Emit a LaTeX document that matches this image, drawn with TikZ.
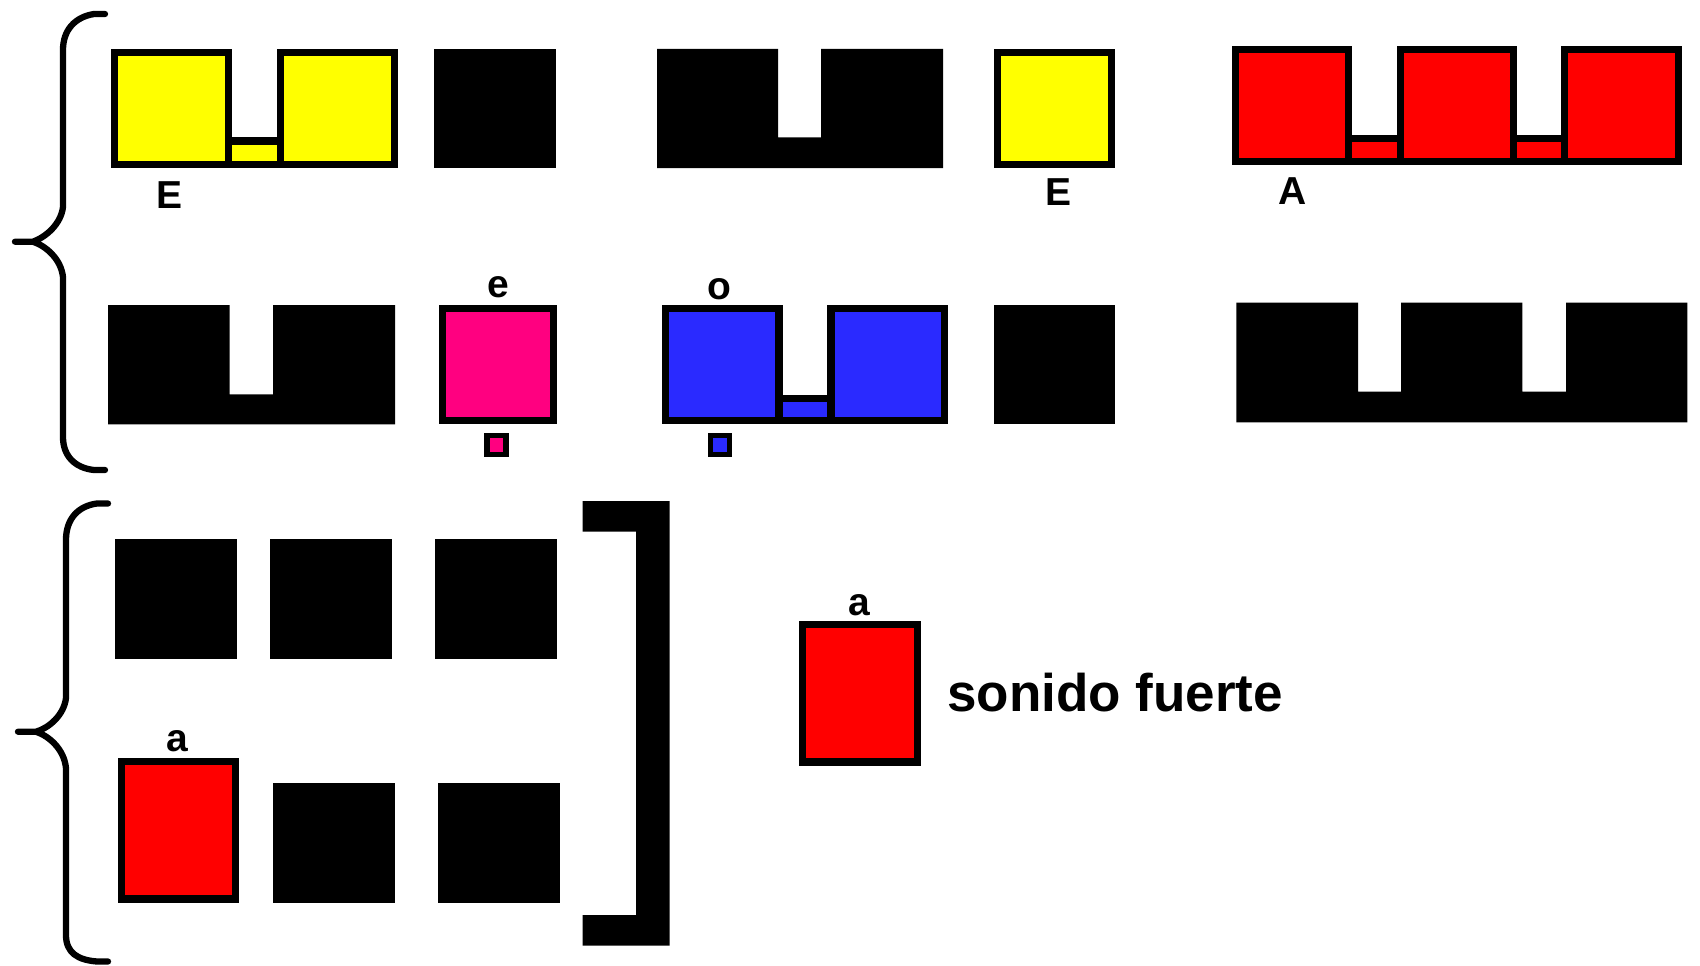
\documentclass[tikz,border=0pt]{standalone}
\usepackage{fontspec}
\setmainfont{Liberation Sans}
\definecolor{yel}{RGB}{255,255,0}
\definecolor{rd}{RGB}{255,0,0}
\definecolor{mag}{RGB}{255,0,128}
\definecolor{blu}{RGB}{42,42,255}
\newcommand{\obox}[5]{\draw[cbox,fill=#5] ({#1+3.65},{#2+3.65}) rectangle ({#3-3.65},{#4-3.65});}
\newcommand{\smbox}[5]{\draw[cbox,line width=5.7pt,fill=#5] ({#1+2.85},{#2+2.85}) rectangle ({#3-2.85},{#4-2.85});}
\tikzset{
  cbox/.style={draw=black,line width=7.3pt,line join=miter},
  solid/.style={fill=black},
  brace/.style={draw=black,line width=6.3pt,line cap=round,line join=round},
  lab/.style={font=\bfseries\fontsize{39}{40}\selectfont,inner sep=0pt,anchor=base},
  big/.style={font=\bfseries\fontsize{53}{56}\selectfont,inner sep=0pt,anchor=base west}
}
\begin{document}
\begin{tikzpicture}[x=1pt,y=-1pt]
\useasboundingbox (0,0) rectangle (1700,966);
% ---------- row 1 ----------
\obox{111}{49}{232}{168}{yel}
\obox{277}{49}{398}{168}{yel}
\obox{224.7}{137.3}{284.3}{168}{yel}
\fill[solid] (434,49) rectangle (556,168);
\fill[solid] (657,49) -- (778,49) -- (778,137.3) -- (821,137.3) -- (821,49) -- (943,49) -- (943,168) -- (657,168) -- cycle;
\obox{994}{49}{1115}{168}{yel}
\obox{1231.5}{46}{1352}{165}{rd}
\obox{1396.5}{46}{1517}{165}{rd}
\obox{1561}{46}{1682}{165}{rd}
\obox{1344.7}{135}{1403.8}{165}{rd}
\obox{1509.7}{135}{1568.3}{165}{rd}
\node[lab] (E1) at (170,208) {E};
\node[lab] (E2) at (1058.5,205.7) {E};
\node[lab] (A1) at (1293,204) {A};
% ---------- row 2 ----------
\fill[solid] (108,305) -- (229.6,305) -- (229.6,394.3) -- (273,394.3) -- (273,305) -- (395,305) -- (395,424.3) -- (108,424.3) -- cycle;
\obox{438.6}{305}{557.2}{424.3}{mag}
\smbox{484}{432.7}{509}{457.3}{mag}
\node[lab] (e1) at (498,297) {e};
\obox{662}{305}{782.5}{424.3}{blu}
\obox{827.3}{305}{948}{424.3}{blu}
\obox{775.2}{395}{834.6}{424.3}{blu}
\smbox{707.7}{432.7}{732.2}{457.3}{blu}
\node[lab] (o1) at (719.6,299) {o};
\fill[solid] (994,305) rectangle (1115,424.3);
\fill[solid] (1236.4,302.7) -- (1358,302.7) -- (1358,391.7) -- (1401,391.7) -- (1401,302.7) -- (1522.4,302.7) -- (1522.4,391.7) -- (1566,391.7) -- (1566,302.7) -- (1687.4,302.7) -- (1687.4,422.3) -- (1236.4,422.3) -- cycle;
% ---------- brace 1 ----------
\draw[brace] (105,14) -- (94,14) .. controls (75,17) and (63,30) .. (63,50) -- (63,207) .. controls (61,224) and (46,237) .. (33,241.7) -- (15,241.7) (33,241.7) .. controls (46,246) and (61,259) .. (63,277) -- (63,437) .. controls (63,456) and (75,468) .. (94,470) -- (105,470);
% ---------- bottom ----------
\draw[brace] (108,503.5) -- (97,503.5) .. controls (78,506) and (66,519) .. (66,540) -- (66,698) .. controls (64,715) and (49,728) .. (36,731.7) -- (18,731.7) (36,731.7) .. controls (49,736) and (64,749) .. (66,768) -- (66,935) .. controls (66,953) and (78,960) .. (97,961.5) -- (108,961.5);
\fill[solid] (115,539.3) rectangle (237,658.7);
\fill[solid] (270,539.3) rectangle (392,658.7);
\fill[solid] (435,539.3) rectangle (557,658.7);
\obox{118}{757.7}{239.3}{902.7}{rd}
\node[lab] (a1) at (177.5,751.7) {a};
\fill[solid] (272.8,783.3) rectangle (394.6,902.7);
\fill[solid] (438,783.3) rectangle (559.8,902.7);
\fill[solid] (582.6,501) -- (669.6,501) -- (669.6,945.7) -- (582.6,945.7) -- (582.6,915) -- (636.2,915) -- (636.2,531.7) -- (582.6,531.7) -- cycle;
\obox{799}{620.7}{921}{765.7}{rd}
\node[lab] (a2) at (859.5,615) {a};
\node[big] (txt) at (947,711.7) {sonido fuerte};
\end{tikzpicture}
\end{document}
